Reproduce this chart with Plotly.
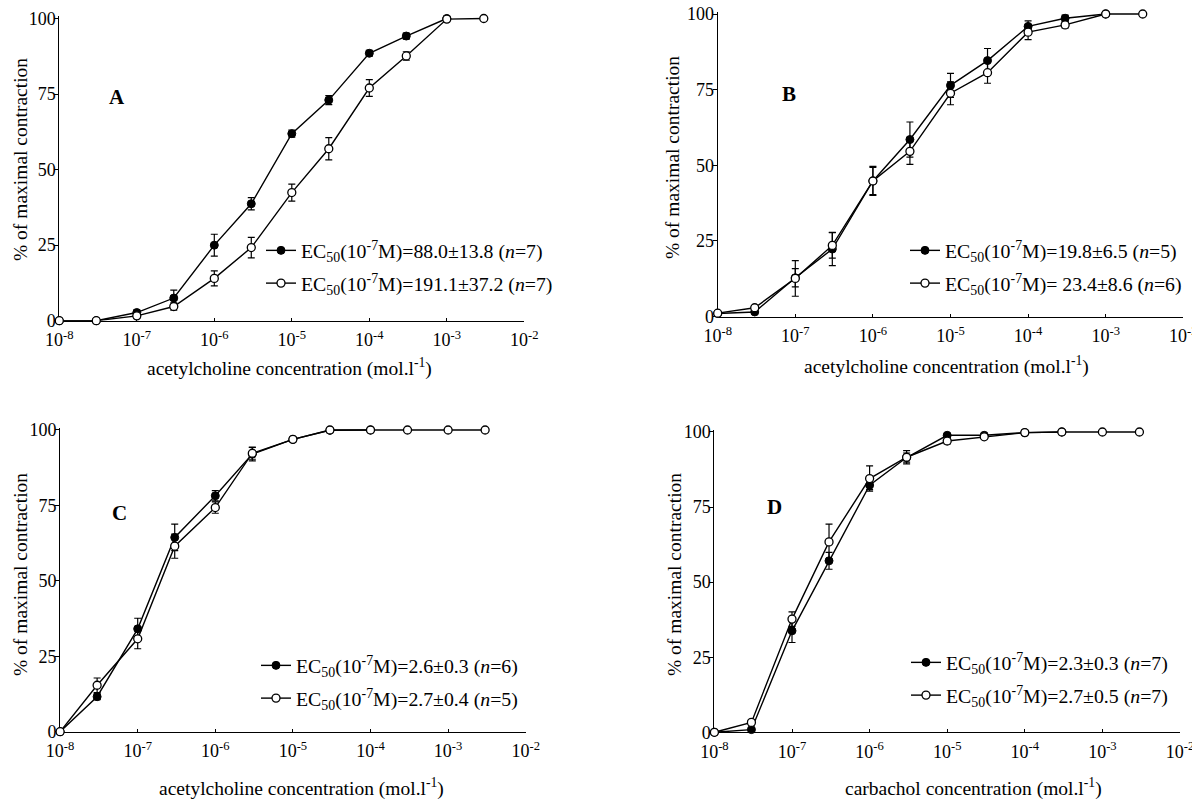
import plotly.graph_objects as go

W, H = 1192, 799
FONT = "Liberation Serif"

# Agonist concentrations (mol/l) used for every curve
conc = [1e-8, 3e-8, 1e-7, 3e-7, 1e-6, 3e-6, 1e-5, 3e-5, 1e-4, 3e-4, 1e-3, 3e-3]
tick_vals = [1e-8, 1e-7, 1e-6, 1e-5, 1e-4, 1e-3, 1e-2]
tick_text = ["10<sup>-8</sup>", "10<sup>-7</sup>", "10<sup>-6</sup>", "10<sup>-5</sup>",
             "10<sup>-4</sup>", "10<sup>-3</sup>", "10<sup>-2</sup>"]
y_ticks = [0, 25, 50, 75, 100]

# Panel A - acetylcholine
a_filled = [0, 0, 2.7, 7.5, 25.0, 38.7, 61.9, 73.0, 88.5, 94.2, 100]
a_filled_err = [0, 0, 0.8, 2.6, 3.6, 2.0, 1.2, 1.5, 1.0, 1.0, 0]
a_open = [0, 0, 1.6, 4.7, 14.0, 24.2, 42.4, 56.9, 77.0, 87.6, 99.8, 100]
a_open_err = [0, 0, 0.8, 1.2, 2.5, 3.4, 2.8, 3.7, 2.8, 1.4, 0.5, 0]

# Panel B - acetylcholine
b_filled = [1.0, 1.5, 12.8, 22.3, 44.8, 58.5, 76.4, 84.6, 95.9, 98.6, 100]
b_filled_err = [0, 0, 3.0, 5.5, 4.8, 5.8, 4.0, 4.0, 1.8, 1.0, 0]
b_open = [1.1, 2.9, 12.6, 23.5, 44.8, 54.6, 73.8, 80.6, 94.0, 96.4, 100, 100]
b_open_err = [0, 0, 5.9, 4.2, 4.5, 4.3, 3.8, 3.5, 2.5, 1.0, 0, 0]

# Panel C - acetylcholine
c_filled = [0, 11.6, 34.1, 64.4, 78.2, 92.0, 96.9, 99.9, 100]
c_filled_err = [0, 1.0, 3.5, 4.4, 1.7, 2.2, 0, 0, 0]
c_open = [0, 15.4, 30.8, 61.5, 74.3, 92.3, 96.9, 100, 100, 100, 100, 100]
c_open_err = [0, 2.4, 3.3, 4.0, 1.9, 2.0, 0, 0, 0, 0, 0, 0]

# Panel D - carbachol
d_filled = [0, 0.9, 33.8, 57.1, 82.3, 91.5, 98.9, 98.9, 99.8, 100]
d_filled_err = [0, 0, 3.9, 2.8, 1.5, 1.5, 0.5, 0.5, 0.3, 0]
d_open = [0, 3.3, 37.7, 63.4, 84.5, 91.6, 97.0, 98.4, 99.8, 100, 100, 100]
d_open_err = [0, 0.8, 2.4, 5.9, 4.2, 2.2, 1.0, 0.5, 0.3, 0, 0, 0]

legend_a = ["EC<sub>50</sub>(10<sup>-7</sup>M)=88.0±13.8 (<i>n</i>=7)",
            "EC<sub>50</sub>(10<sup>-7</sup>M)=191.1±37.2 (<i>n</i>=7)"]
legend_b = ["EC<sub>50</sub>(10<sup>-7</sup>M)=19.8±6.5 (<i>n</i>=5)",
            "EC<sub>50</sub>(10<sup>-7</sup>M)= 23.4±8.6 (<i>n</i>=6)"]
legend_c = ["EC<sub>50</sub>(10<sup>-7</sup>M)=2.6±0.3 (<i>n</i>=6)",
            "EC<sub>50</sub>(10<sup>-7</sup>M)=2.7±0.4 (<i>n</i>=5)"]
legend_d = ["EC<sub>50</sub>(10<sup>-7</sup>M)=2.3±0.3 (<i>n</i>=7)",
            "EC<sub>50</sub>(10<sup>-7</sup>M)=2.7±0.5 (<i>n</i>=7)"]

x_title_ach = "acetylcholine concentration (mol.l<sup>-1</sup>)"
x_title_cch = "carbachol concentration (mol.l<sup>-1</sup>)"
y_title = "% of maximal contraction"

# Panel geometry in pixels: x of 1e-8 and 1e-2, y of 0% and 100%
panels = [
    dict(key="", letter="A", x0=59.3, x1=524.3, y0=320.7, y100=18.5,
         filled=a_filled, ferr=a_filled_err, open=a_open, oerr=a_open_err, leg=legend_a,
         legpos=(261, 250), letpos=(117, 97), xt=x_title_ach, xtpos=(289, 367), ytpos=(20, 160)),
    dict(key="2", letter="B", x0=717.7, x1=1183.3, y0=316.5, y100=14.0,
         filled=b_filled, ferr=b_filled_err, open=b_open, oerr=b_open_err, leg=legend_b,
         legpos=(905, 250), letpos=(789, 94), xt=x_title_ach, xtpos=(946, 365), ytpos=(673, 158)),
    dict(key="3", letter="C", x0=60.1, x1=525.7, y0=731.7, y100=430.0,
         filled=c_filled, ferr=c_filled_err, open=c_open, oerr=c_open_err, leg=legend_c,
         legpos=(256, 665), letpos=(120, 513), xt=x_title_ach, xtpos=(301, 787), ytpos=(20, 575)),
    dict(key="4", letter="D", x0=714.4, x1=1180.0, y0=732.3, y100=432.0,
         filled=d_filled, ferr=d_filled_err, open=d_open, oerr=d_open_err, leg=legend_d,
         legpos=(906, 662), letpos=(774, 507), xt=x_title_cch, xtpos=(973, 787), ytpos=(674, 575)),
]

Y_TOP = 100.8

fig = go.Figure()
annotations = []
layout = {}

for i, p in enumerate(panels):
    k = p["key"]
    xa, ya = "x" + k, "y" + k
    leg = "legend" + k
    n_f = len(p["filled"])
    n_o = len(p["open"])
    err_style = dict(type="data", color="black", thickness=1.2, width=3.5)
    fig.add_trace(go.Scatter(
        x=conc[:n_f], y=p["filled"], mode="lines+markers", name=p["leg"][0],
        xaxis=xa, yaxis=ya, legend=leg, legendgroup=f"f{i}", cliponaxis=False,
        line=dict(color="black", width=1.4),
        marker=dict(symbol="circle", size=8, color="black", line=dict(color="black", width=1)),
        error_y=dict(array=p["ferr"], **err_style),
    ))
    fig.add_trace(go.Scatter(
        x=conc[:n_o], y=p["open"], mode="lines+markers", name=p["leg"][1],
        xaxis=xa, yaxis=ya, legend=leg, legendgroup=f"o{i}", cliponaxis=False,
        line=dict(color="black", width=1.4),
        marker=dict(symbol="circle", size=8, color="white", line=dict(color="black", width=1.3)),
        error_y=dict(array=p["oerr"], **err_style),
    ))

    top_px = p["y0"] - (p["y0"] - p["y100"]) * Y_TOP / 100.0
    layout["xaxis" + k] = dict(
        type="log", range=[-8, -2], domain=[p["x0"] / W, p["x1"] / W], anchor=ya,
        automargin=False, ticklabeloverflow="allow", ticklabelstandoff=3,
        tickvals=tick_vals, ticktext=tick_text, ticks="inside", ticklen=3,
        tickcolor="black", showline=True, linecolor="black", linewidth=1,
        showgrid=False, zeroline=False, layer="below traces",
        tickfont=dict(family=FONT, size=18, color="black"),
    )
    layout["yaxis" + k] = dict(
        range=[0, Y_TOP], domain=[1 - p["y0"] / H, 1 - top_px / H], anchor=xa,
        automargin=False, ticklabeloverflow="allow", ticklabelstandoff=-5,
        tickvals=y_ticks, ticks="outside", ticklen=4, tickcolor="black",
        showline=True, linecolor="black", linewidth=1, showgrid=False, zeroline=False,
        layer="below traces", tickfont=dict(family=FONT, size=18, color="black"),
    )
    layout[leg] = dict(
        x=p["legpos"][0] / W, y=1 - (p["legpos"][1] - 19) / H, xanchor="left", yanchor="top",
        bgcolor="rgba(0,0,0,0)", borderwidth=0, itemwidth=30, tracegroupgap=4,
        font=dict(family=FONT, size=19.8, color="black"),
    )
    annotations.append(dict(
        text="<b>" + p["letter"] + "</b>", x=p["letpos"][0] / W, y=1 - p["letpos"][1] / H,
        xref="paper", yref="paper", showarrow=False, xanchor="center", yanchor="middle",
        font=dict(family=FONT, size=21, color="black")))
    annotations.append(dict(
        text=p["xt"], x=p["xtpos"][0] / W, y=1 - p["xtpos"][1] / H,
        xref="paper", yref="paper", showarrow=False, xanchor="center", yanchor="middle",
        font=dict(family=FONT, size=19.5, color="black")))
    annotations.append(dict(
        text=y_title, x=p["ytpos"][0] / W, y=1 - p["ytpos"][1] / H, textangle=-90,
        xref="paper", yref="paper", showarrow=False, xanchor="center", yanchor="middle",
        font=dict(family=FONT, size=19.5, color="black")))

fig.update_layout(
    width=W, height=H, margin=dict(l=0, r=0, t=0, b=0, autoexpand=False),
    paper_bgcolor="white", plot_bgcolor="white", showlegend=True,
    annotations=annotations, **layout,
)

fig.write_html("out.html")
